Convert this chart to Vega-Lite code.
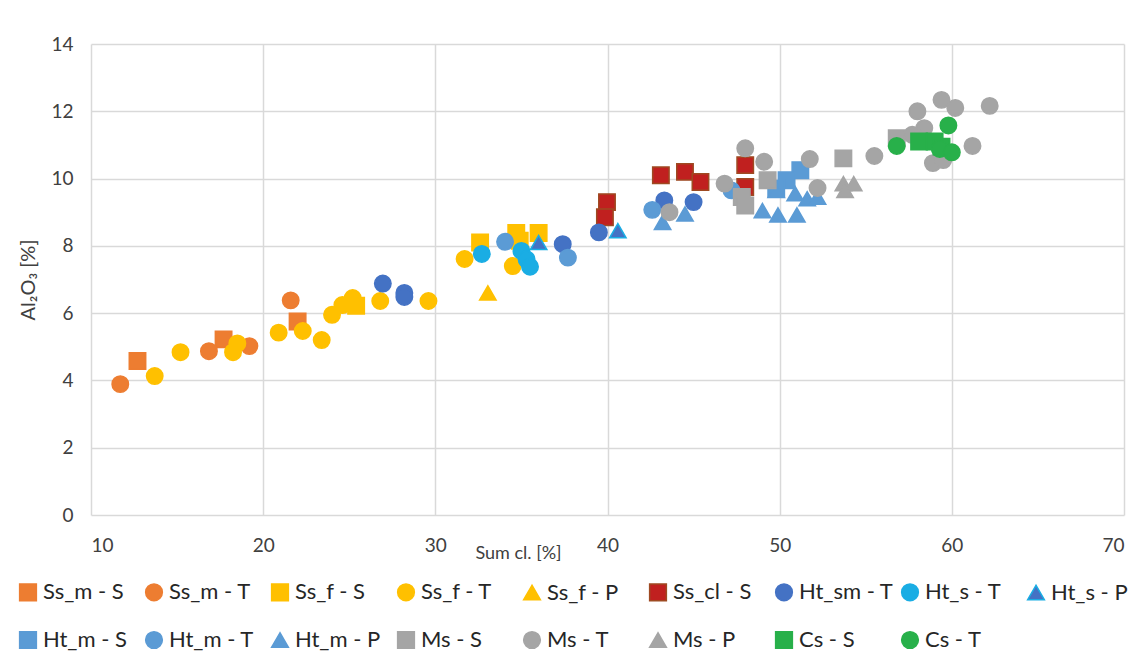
{
  "$schema": "https://vega.github.io/schema/vega-lite/v6.json",
  "width": 1033,
  "height": 471,
  "autosize": "none",
  "padding": {"left": 91, "top": 44, "right": 20, "bottom": 142},
  "background": "white",
  "config": {
    "font": "Lato",
    "view": {"stroke": null},
    "axis": {"gridColor": "#D9D9D9", "gridWidth": 1.5, "domain": false, "ticks": false, "labelFontSize": 19, "labelColor": "#404040", "titleFontSize": 18, "titleFontWeight": "normal", "titleColor": "#404040", "labelFont": "Lato", "titleFont": "Lato"},
    "legend": {"labelFontSize": 22, "labelColor": "#262626", "labelFont": "Lato"}
  },
  "data": {"values": [
    {"series": "Ss_m - S", "x": 12.7, "y": 4.58},
    {"series": "Ss_m - S", "x": 17.7, "y": 5.22},
    {"series": "Ss_m - S", "x": 22.0, "y": 5.75},
    {"series": "Ss_m - T", "x": 11.7, "y": 3.89},
    {"series": "Ss_m - T", "x": 16.85, "y": 4.87},
    {"series": "Ss_m - T", "x": 19.2, "y": 5.02},
    {"series": "Ss_m - T", "x": 21.6, "y": 6.38},
    {"series": "Ss_f - S", "x": 25.4, "y": 6.22},
    {"series": "Ss_f - S", "x": 32.6, "y": 8.1},
    {"series": "Ss_f - S", "x": 34.7, "y": 8.38},
    {"series": "Ss_f - S", "x": 34.9, "y": 8.15},
    {"series": "Ss_f - S", "x": 36.0, "y": 8.38},
    {"series": "Ss_f - T", "x": 13.7, "y": 4.13},
    {"series": "Ss_f - T", "x": 15.2, "y": 4.84},
    {"series": "Ss_f - T", "x": 18.25, "y": 4.84},
    {"series": "Ss_f - T", "x": 18.5, "y": 5.1},
    {"series": "Ss_f - T", "x": 20.9, "y": 5.42},
    {"series": "Ss_f - T", "x": 22.3, "y": 5.47},
    {"series": "Ss_f - T", "x": 23.4, "y": 5.2},
    {"series": "Ss_f - T", "x": 24.0, "y": 5.95},
    {"series": "Ss_f - T", "x": 24.6, "y": 6.24},
    {"series": "Ss_f - T", "x": 25.2, "y": 6.45},
    {"series": "Ss_f - T", "x": 26.8, "y": 6.36},
    {"series": "Ss_f - T", "x": 29.6, "y": 6.36},
    {"series": "Ss_f - T", "x": 31.7, "y": 7.61},
    {"series": "Ss_f - T", "x": 34.5, "y": 7.4},
    {"series": "Ss_f - P", "x": 33.05, "y": 6.6},
    {"series": "Ss_cl - S", "x": 39.97, "y": 9.3},
    {"series": "Ss_cl - S", "x": 39.85, "y": 8.85},
    {"series": "Ss_cl - S", "x": 43.1, "y": 10.1},
    {"series": "Ss_cl - S", "x": 44.5, "y": 10.2},
    {"series": "Ss_cl - S", "x": 45.4, "y": 9.9},
    {"series": "Ss_cl - S", "x": 48.0, "y": 10.4},
    {"series": "Ss_cl - S", "x": 48.0, "y": 9.75},
    {"series": "Ht_sm - T", "x": 26.95, "y": 6.88},
    {"series": "Ht_sm - T", "x": 28.2, "y": 6.6},
    {"series": "Ht_sm - T", "x": 28.2, "y": 6.48},
    {"series": "Ht_sm - T", "x": 37.4, "y": 8.05},
    {"series": "Ht_sm - T", "x": 39.5, "y": 8.4},
    {"series": "Ht_sm - T", "x": 43.3, "y": 9.35},
    {"series": "Ht_sm - T", "x": 45.0, "y": 9.3},
    {"series": "Ht_s - T", "x": 32.7, "y": 7.76},
    {"series": "Ht_s - T", "x": 35.0, "y": 7.85},
    {"series": "Ht_s - T", "x": 35.3, "y": 7.6},
    {"series": "Ht_s - T", "x": 35.5, "y": 7.38},
    {"series": "Ht_s - P", "x": 36.0, "y": 8.1},
    {"series": "Ht_s - P", "x": 40.6, "y": 8.45},
    {"series": "Ht_m - S", "x": 51.2, "y": 10.25},
    {"series": "Ht_m - S", "x": 50.4, "y": 9.95},
    {"series": "Ht_m - S", "x": 49.8, "y": 9.7},
    {"series": "Ht_m - T", "x": 34.05, "y": 8.12},
    {"series": "Ht_m - T", "x": 37.7, "y": 7.65},
    {"series": "Ht_m - T", "x": 42.6, "y": 9.07},
    {"series": "Ht_m - T", "x": 47.2, "y": 9.65},
    {"series": "Ht_m - P", "x": 43.2, "y": 8.7},
    {"series": "Ht_m - P", "x": 44.5, "y": 8.95},
    {"series": "Ht_m - P", "x": 49.0, "y": 9.05},
    {"series": "Ht_m - P", "x": 49.9, "y": 8.92},
    {"series": "Ht_m - P", "x": 51.0, "y": 8.92},
    {"series": "Ht_m - P", "x": 49.8, "y": 9.65},
    {"series": "Ht_m - P", "x": 50.9, "y": 9.55},
    {"series": "Ht_m - P", "x": 51.6, "y": 9.4},
    {"series": "Ht_m - P", "x": 52.2, "y": 9.45},
    {"series": "Ms - S", "x": 53.7, "y": 10.6},
    {"series": "Ms - S", "x": 49.3, "y": 9.95},
    {"series": "Ms - S", "x": 47.8, "y": 9.45},
    {"series": "Ms - S", "x": 48.0, "y": 9.2},
    {"series": "Ms - S", "x": 56.8, "y": 11.2},
    {"series": "Ms - T", "x": 48.0, "y": 10.9},
    {"series": "Ms - T", "x": 49.1, "y": 10.5},
    {"series": "Ms - T", "x": 46.8, "y": 9.85},
    {"series": "Ms - T", "x": 43.6, "y": 9.0},
    {"series": "Ms - T", "x": 51.75, "y": 10.58},
    {"series": "Ms - T", "x": 52.2, "y": 9.72},
    {"series": "Ms - T", "x": 55.5, "y": 10.67},
    {"series": "Ms - T", "x": 58.0, "y": 12.0},
    {"series": "Ms - T", "x": 59.4, "y": 12.34},
    {"series": "Ms - T", "x": 60.2, "y": 12.1},
    {"series": "Ms - T", "x": 62.2, "y": 12.16},
    {"series": "Ms - T", "x": 61.2, "y": 10.97},
    {"series": "Ms - T", "x": 58.4, "y": 11.5},
    {"series": "Ms - T", "x": 58.9, "y": 10.46},
    {"series": "Ms - T", "x": 59.5, "y": 10.55},
    {"series": "Ms - T", "x": 57.7, "y": 11.3},
    {"series": "Ms - T", "x": 58.2, "y": 11.2},
    {"series": "Ms - P", "x": 53.7, "y": 9.85},
    {"series": "Ms - P", "x": 54.3, "y": 9.85},
    {"series": "Ms - P", "x": 53.8, "y": 9.65},
    {"series": "Cs - S", "x": 58.1, "y": 11.1},
    {"series": "Cs - S", "x": 59.0, "y": 11.1},
    {"series": "Cs - S", "x": 59.4, "y": 10.95},
    {"series": "Cs - T", "x": 56.8, "y": 10.97},
    {"series": "Cs - T", "x": 59.8, "y": 11.58},
    {"series": "Cs - T", "x": 59.3, "y": 10.88},
    {"series": "Cs - T", "x": 60.0, "y": 10.78}
  ]},
  "mark": {"type": "point", "filled": true, "opacity": 1, "size": 270, "strokeWidth": 1.5},
  "encoding": {
    "x": {"field": "x", "type": "quantitative", "scale": {"domain": [10, 70], "nice": false}, "axis": {"values": [10, 20, 30, 40, 50, 60, 70], "title": "Sum cl. [%]", "labelPadding": 21, "titleX": 427, "titleY": 38, "titleAlign": "center", "titleBaseline": "middle"}},
    "y": {"field": "y", "type": "quantitative", "scale": {"domain": [0, 14], "nice": false}, "axis": {"values": [0, 2, 4, 6, 8, 10, 12, 14], "title": "Al₂O₃ [%]", "titleFontSize": 20, "labelPadding": 18, "titlePadding": 12}},
    "fill": {"field": "series", "type": "nominal",
      "scale": {"domain": ["Ss_m - S", "Ss_m - T", "Ss_f - S", "Ss_f - T", "Ss_f - P", "Ss_cl - S", "Ht_sm - T", "Ht_s - T", "Ht_s - P", "Ht_m - S", "Ht_m - T", "Ht_m - P", "Ms - S", "Ms - T", "Ms - P", "Cs - S", "Cs - T"],
        "range": ["#ED7D31", "#ED7D31", "#FFC000", "#FFC000", "#FFC000", "#C0201F", "#4472C4", "#1AADE4", "#4472C4", "#5B9BD5", "#5B9BD5", "#5B9BD5", "#A5A5A5", "#A5A5A5", "#A5A5A5", "#28B04A", "#28B04A"]},
      "legend": {"orient": "none", "legendX": -74, "legendY": 537, "direction": "horizontal", "columns": 9, "gridAlign": "all", "columnPadding": 4, "rowPadding": 24, "symbolSize": 280, "symbolOffset": 0, "labelOffset": 4, "title": null}},
    "stroke": {"field": "series", "type": "nominal",
      "scale": {"domain": ["Ss_m - S", "Ss_m - T", "Ss_f - S", "Ss_f - T", "Ss_f - P", "Ss_cl - S", "Ht_sm - T", "Ht_s - T", "Ht_s - P", "Ht_m - S", "Ht_m - T", "Ht_m - P", "Ms - S", "Ms - T", "Ms - P", "Cs - S", "Cs - T"],
        "range": ["#ED7D31", "#ED7D31", "#FFC000", "#FFC000", "#FFC000", "#9E4A22", "#4472C4", "#1AADE4", "#1AADE4", "#5B9BD5", "#5B9BD5", "#5B9BD5", "#A5A5A5", "#A5A5A5", "#A5A5A5", "#28B04A", "#28B04A"]},
      "legend": {"orient": "none", "legendX": -74, "legendY": 537, "direction": "horizontal", "columns": 9, "gridAlign": "all", "columnPadding": 4, "rowPadding": 24, "symbolSize": 280, "symbolOffset": 0, "labelOffset": 4, "title": null}},
    "shape": {"field": "series", "type": "nominal",
      "scale": {"domain": ["Ss_m - S", "Ss_m - T", "Ss_f - S", "Ss_f - T", "Ss_f - P", "Ss_cl - S", "Ht_sm - T", "Ht_s - T", "Ht_s - P", "Ht_m - S", "Ht_m - T", "Ht_m - P", "Ms - S", "Ms - T", "Ms - P", "Cs - S", "Cs - T"],
        "range": ["square", "circle", "square", "circle", "triangle-up", "square", "circle", "circle", "triangle-up", "square", "circle", "triangle-up", "square", "circle", "triangle-up", "square", "circle"]},
      "legend": {"orient": "none", "legendX": -74, "legendY": 537, "direction": "horizontal", "columns": 9, "gridAlign": "all", "columnPadding": 4, "rowPadding": 24, "symbolSize": 280, "symbolOffset": 0, "labelOffset": 4, "title": null}}
  }
}
